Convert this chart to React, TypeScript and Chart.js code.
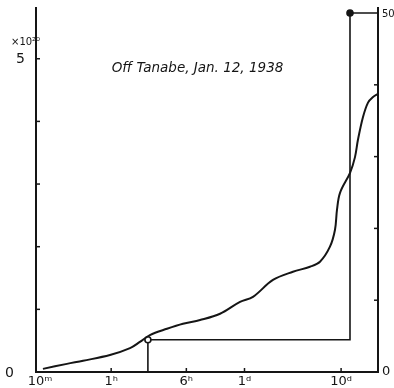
import React, { useEffect, useRef } from "react";
import { Chart, registerables } from "chart.js";

Chart.register(...registerables);

// ---- data (time in minutes, log axis) ----
const TITLE = "Off Tanabe, Jan. 12, 1938";
const SCALE_NOTE = "×10²⁰";
const xTickValues = [10, 60, 360, 1440, 14400];
const xTickLabels = ["10ᵐ", "1ʰ", "6ʰ", "1ᵈ", "10ᵈ"];
const leftTickValues = [0, 1, 2, 3, 4, 5];
const leftTickLabels = ["0", "", "", "", "", "5"];
const rightTickValues = [0, 10, 20, 30, 40, 50];
const rightTickLabels = ["0", "", "", "", "", "50"];

const curveTimes = [11.8, 20.9, 30.7, 58.3, 94, 119, 151, 227, 332, 499, 804, 1294, 1762, 2838, 4571, 6855, 8705, 11040, 12450, 13060, 14030, 17820, 20050, 21540, 24270, 27350, 30820, 34670];
const curveValues = [0.05, 0.13, 0.18, 0.27, 0.38, 0.48, 0.59, 0.69, 0.77, 0.83, 0.93, 1.12, 1.2, 1.47, 1.6, 1.68, 1.76, 2.0, 2.27, 2.59, 2.86, 3.18, 3.43, 3.71, 4.07, 4.3, 4.39, 4.44];

const stepTimes = [144, 144, 17800, 17800, 34700];
const stepValues = [0, 4.5, 4.5, 50, 50];
const stepDots = [0, 1, 0, 1, 0];

const X_MIN = 10;
const X_MAX = 34700;
const Y_MAX = 5.81;
const Y2_MAX = 50.7;

const INK = "#151515";

const decor = {
  id: "decor",
  afterDraw(chart: any) {
    const { ctx, chartArea: a, scales } = chart;
    const x = scales.x, y = scales.y, y2 = scales.y2;
    ctx.save();
    ctx.strokeStyle = INK;
    ctx.fillStyle = INK;
    ctx.lineWidth = 1.5;
    const seg = (x1: number, y1: number, x2: number, y2p: number) => {
      ctx.beginPath(); ctx.moveTo(x1, y1); ctx.lineTo(x2, y2p); ctx.stroke();
    };
    // left ticks (inside)
    leftTickValues.forEach((v) => {
      if (v === 0) return;
      const py = y.getPixelForValue(v);
      seg(a.left, py, a.left + 4, py);
    });
    // right ticks (inside)
    rightTickValues.forEach((v) => {
      if (v === 0 || v === 50) return;
      const py = y2.getPixelForValue(v);
      seg(a.right - 4, py, a.right, py);
    });
    // bottom ticks (inside)
    xTickValues.forEach((v) => {
      if (v === X_MIN) return;
      const px = x.getPixelForValue(v);
      seg(px, a.bottom, px, a.bottom - 4);
    });

    // labels
    ctx.textBaseline = "middle";
    ctx.font = "13px 'DejaVu Sans'";
    ctx.textAlign = "center";
    xTickValues.forEach((v, i) => {
      const px = x.getPixelForValue(v) + (i === 0 ? 4 : 0);
      ctx.fillText(xTickLabels[i], px, a.bottom + 10);
    });
    leftTickValues.forEach((v, i) => {
      if (!leftTickLabels[i]) return;
      const py = y.getPixelForValue(v);
      ctx.textAlign = "right";
      ctx.font = "14px 'DejaVu Sans'";
      ctx.fillText(leftTickLabels[i], v === 0 ? a.left - 22 : a.left - 11, py + 1);
    });
    rightTickValues.forEach((v, i) => {
      if (!rightTickLabels[i]) return;
      const py = y2.getPixelForValue(v);
      ctx.textAlign = "left";
      ctx.font = v === 0 ? "13px 'DejaVu Sans'" : "10px 'DejaVu Sans'";
      ctx.fillText(rightTickLabels[i], a.right + 4, py + (v === 0 ? 0 : 1));
    });
    // scale note
    ctx.font = "10px 'DejaVu Sans'";
    ctx.textAlign = "left";
    ctx.fillText(SCALE_NOTE, a.left - 25, y.getPixelForValue(5) - 16);

    // title
    ctx.font = "italic 13.5px 'DejaVu Sans'";
    ctx.textAlign = "center";
    ctx.fillText(TITLE, x.getPixelForValue(470), y.getPixelForValue(4.84));
    ctx.restore();
  },
};

export default function App() {
  const ref = useRef<HTMLCanvasElement | null>(null);
  useEffect(() => {
    if (!ref.current) return;
    const chart = new Chart(ref.current, {
      type: "line",
      data: {
        datasets: [
          {
            data: curveTimes.map((t, i) => ({ x: t, y: curveValues[i] })),
            yAxisID: "y",
            borderColor: INK,
            borderWidth: 2,
            pointRadius: 0,
            tension: 0.35,
            fill: false,
          },
          {
            data: stepTimes.map((t, i) => ({ x: t, y: stepValues[i] })),
            yAxisID: "y2",
            borderColor: INK,
            borderWidth: 1.6,
            pointRadius: stepDots.map((d) => (d ? 3 : 0)),
            pointBackgroundColor: stepDots.map((d, i) => (i === 1 ? "#ffffff" : INK)),
            pointBorderColor: INK,
            pointBorderWidth: 1.6,
            tension: 0,
            fill: false,
          },
        ],
      },
      options: {
        responsive: false,
        animation: false,
        events: [],
        layout: { padding: { top: 8, left: 0, right: 0, bottom: 0 } },
        plugins: { legend: { display: false }, tooltip: { enabled: false }, title: { display: false } },
        scales: {
          x: {
            type: "logarithmic",
            min: X_MIN,
            max: X_MAX,
            grid: { display: false, drawTicks: false },
            border: { display: true, color: INK, width: 2 },
            ticks: { display: false },
            afterFit: (s: any) => { s.height = 16; },
          },
          y: {
            type: "linear",
            position: "left",
            min: 0,
            max: Y_MAX,
            grid: { display: false, drawTicks: false },
            border: { display: true, color: INK, width: 2 },
            ticks: { display: false },
            afterFit: (s: any) => { s.width = 36; },
          },
          y2: {
            type: "linear",
            position: "right",
            min: 0,
            max: Y2_MAX,
            grid: { display: false, drawTicks: false },
            border: { display: true, color: INK, width: 2 },
            ticks: { display: false },
            afterFit: (s: any) => { s.width = 16; },
          },
        },
      } as any,
      plugins: [decor],
    });
    return () => chart.destroy();
  }, []);
  return (
    <div style={{ position: "absolute", left: 0, top: 0, width: 394, height: 388, background: "#fff" }}>
      <canvas ref={ref} width={394} height={388} style={{ display: "block" }} />
    </div>
  );
}
